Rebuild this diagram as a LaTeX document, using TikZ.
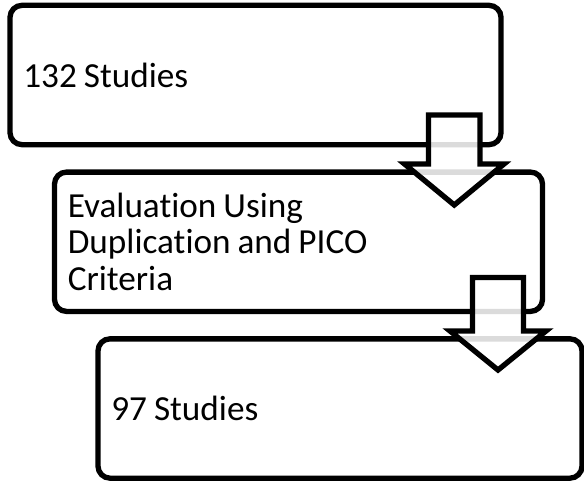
\documentclass[tikz,border=0pt]{standalone}
\usepackage{fontspec}
\setmainfont{Carlito}[Ligatures=NoCommon]

\begin{document}
\begin{tikzpicture}[x=0.75pt,y=-0.75pt,line join=miter,
  box/.style={draw,line width=4pt,rounded corners=9pt,minimum height=104.5pt,
    inner xsep=10pt,align=left,font={\fontsize{26.4pt}{27.4pt}\selectfont},
    execute at begin node={\spaceskip=0.2em\relax}},
  blockarrow/.style={draw,line width=4pt,fill=white,fill opacity=0.86}]
  \useasboundingbox (0,0) rectangle (584,485);
  \node[box,text width=348.25pt] (found) at (255.5,75) {132 Studies};
  \node[box,text width=346pt] (evaluation) at (298.5,241.75)
    {Evaluation Using\\Duplication and PICO\\Criteria};
  \node[box,text width=343pt] (included) at (340,408.5) {97 Studies};
  \coordinate (T1) at (454.25,205);
  \coordinate (T2) at (498,370);
  \draw[blockarrow] (428.5,115) -- (480,115) -- (480,164) -- (504,164) -- (T1)
    -- (404.5,164) -- (428.5,164) -- cycle;
  \draw[blockarrow] (472.5,277.5) -- (523.5,277.5) -- (523.5,331) -- (546,331) -- (T2)
    -- (450,331) -- (472.5,331) -- cycle;
\end{tikzpicture}
\end{document}
